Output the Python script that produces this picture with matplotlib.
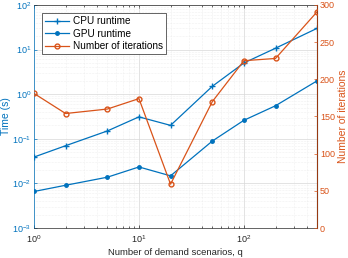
import matplotlib
matplotlib.use("Agg")
import matplotlib.pyplot as plt
import numpy as np

q = [1, 2, 5, 10, 20, 50, 100, 200, 500]
cpu_time = [0.039, 0.07, 0.15, 0.31, 0.2, 1.5, 5.0, 10.7, 30]
gpu_time = [0.0066, 0.0091, 0.0138, 0.0234, 0.0148, 0.089, 0.26, 0.55, 2.0]
iterations = [181, 154, 160, 174, 59, 170, 225, 228, 291]

blue = '#0072BD'
orange = '#D95319'
plt.rcParams['font.family'] = ['Liberation Sans', 'DejaVu Sans']
plt.rcParams['font.size'] = 6.5

fig = plt.figure(figsize=(3.48, 2.58), dpi=100)
ax = fig.add_axes([0.0977, 0.116, 0.814, 0.865])
ax2 = ax.twinx()

l1, = ax.plot(q, cpu_time, color=blue, marker='+', markersize=4, lw=0.9, label='CPU runtime')
l2, = ax.plot(q, gpu_time, color=blue, marker='.', markersize=5, lw=0.9, label='GPU runtime')
l3, = ax2.plot(q, iterations, color=orange, marker='o', markersize=3.5, mfc='none', lw=0.9,
               label='Number of iterations')

ax.set_xscale('log')
ax.set_yscale('log')
ax.set_xlim(1, 500)
ax.set_ylim(1e-3, 1e2)
ax2.set_ylim(0, 300)
ax2.set_yticks(np.arange(0, 301, 50))

ax.grid(True, which='major', color='#d8d8d8', lw=0.5)
ax.grid(True, which='minor', color='#e4e4e4', lw=0.4, ls=':')

ax.set_xlabel('Number of demand scenarios, q', color='#262626', labelpad=2, fontsize=6.8)
ax.set_ylabel('Time (s)', color=blue, labelpad=1, fontsize=7.5)
ax2.set_ylabel('Number of iterations', color=orange, labelpad=2, fontsize=7.5)

ax.tick_params(which='both', direction='in', top=True, length=2.5, width=0.5, colors='#262626', pad=2)
ax.tick_params(axis='x', which='major', pad=4)
ax.tick_params(which='minor', length=1.5)
ax.tick_params(axis='y', which='both', colors=blue, labelcolor=blue, right=False)
ax.tick_params(axis='y', which='minor', left=False)
ax2.tick_params(axis='y', direction='in', length=2.5, width=0.5, colors=orange, pad=2)

for s in ['top', 'bottom']:
    ax.spines[s].set_color('#262626')
    ax.spines[s].set_linewidth(0.5)
ax.spines['left'].set_color(blue)
ax.spines['left'].set_linewidth(0.5)
ax2.spines['right'].set_color(orange)
ax2.spines['right'].set_linewidth(0.5)
ax2.spines['left'].set_visible(False)
ax2.spines['top'].set_visible(False)
ax2.spines['bottom'].set_visible(False)

leg = ax2.legend(handles=[l1, l2, l3], loc='upper left', bbox_to_anchor=(0.012, 0.985),
                 fontsize=7.2, fancybox=False, edgecolor='#262626', framealpha=1,
                 handlelength=2.4, borderpad=0.3, labelspacing=0.25, handletextpad=0.4)
leg.get_frame().set_linewidth(0.5)

fig.savefig('out.png', dpi=100)
